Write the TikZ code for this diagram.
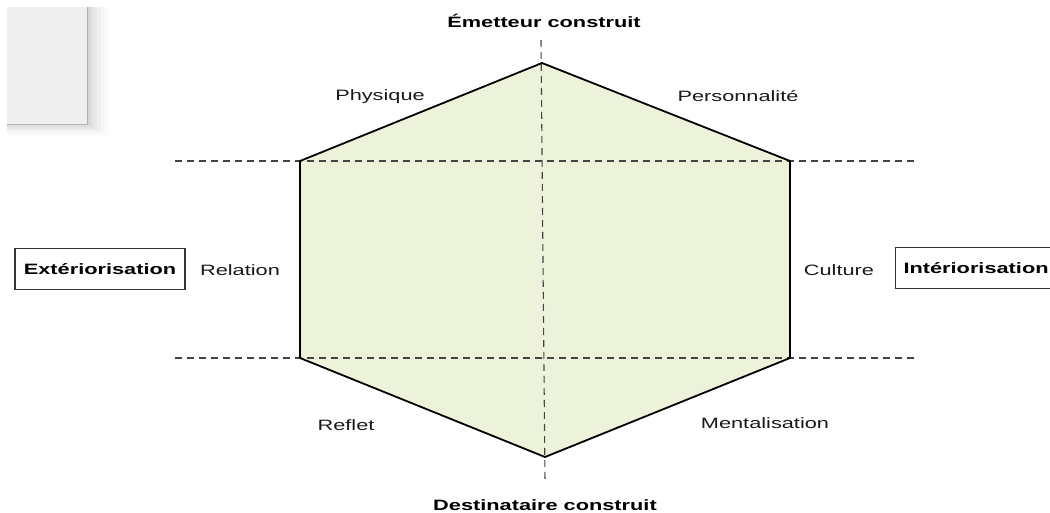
\documentclass[tikz,border=0pt]{standalone}
\usepackage{fontspec}
\setmainfont{Liberation Sans}[FakeStretch=1.45]
\definecolor{hexfill}{HTML}{EDF3DB}
\definecolor{dashgray}{HTML}{444444}
\definecolor{paper}{HTML}{EFEFEF}
\begin{document}
\begin{tikzpicture}[x=1pt,y=-1pt,
  lbl/.style={inner sep=0pt, font=\fontsize{15}{18}\selectfont, text=black!90},
  axislbl/.style={lbl, font=\fontsize{15}{18}\selectfont\bfseries, text=black},
  boxlbl/.style={axislbl, draw=black!80, line width=1.1pt, minimum height=41pt},
  guide/.style={draw=dashgray, line width=1.1pt, dash pattern=on 7pt off 5pt},
  hexline/.style={draw=black, line width=1.8pt, line join=miter}]
\useasboundingbox (0,0) rectangle (1050,513);
% paper sheet in top-left corner, with soft shadow
\foreach \o/\a in {22/0.015,18/0.02,14/0.025,10/0.03,6/0.04,3/0.05}{
  \fill[black, opacity=\a] (7,7) rectangle (87+\o,124+\o*0.5);}
\fill[paper] (7,7) rectangle (87,124);
\draw[black!30, line width=0.9pt] (87,7) -- (87,124) -- (7,124);
% hexagon corners
\coordinate (T) at (542,63);
\coordinate (UR) at (790,161);
\coordinate (LR) at (790,358);
\coordinate (B) at (545,457);
\coordinate (LL) at (300,358);
\coordinate (UL) at (300,161);
\fill[hexfill] (T) -- (UR) -- (LR) -- (B) -- (LL) -- (UL) -- cycle;
% guide lines
\coordinate (vtop) at (541,40);
\coordinate (vbot) at (545,482);
\coordinate (h1l) at (175,161);
\coordinate (h1r) at (915,161);
\coordinate (h2l) at (175,358);
\coordinate (h2r) at (915,358);
\draw[guide] (vtop) -- (vbot);
\draw[guide] (h1l) -- (h1r);
\draw[guide] (h2l) -- (h2r);
\draw[hexline] (T) -- (UR) -- (LR) -- (B) -- (LL) -- (UL) -- cycle;
% labels
\node[axislbl] (emet) at (544,21) {Émetteur construit};
\node[axislbl] (dest) at (545,505) {Destinataire construit};
\node[lbl] (phys) at (380,97) {Physique};
\node[lbl] (pers) at (738,96) {Personnalité};
\node[lbl] (rel) at (240,270) {Relation};
\node[lbl] (cult) at (839,270) {Culture};
\node[lbl] (refl) at (346,425) {Reflet};
\node[lbl] (ment) at (765,423) {Mentalisation};
\node[boxlbl, minimum width=170pt] (ext) at (100,269) {Extériorisation};
\node[boxlbl, anchor=west, inner xsep=8pt, minimum width=170pt, text width=154pt, align=left] (int) at (895,268) {Intériorisation};
\end{tikzpicture}
\end{document}
